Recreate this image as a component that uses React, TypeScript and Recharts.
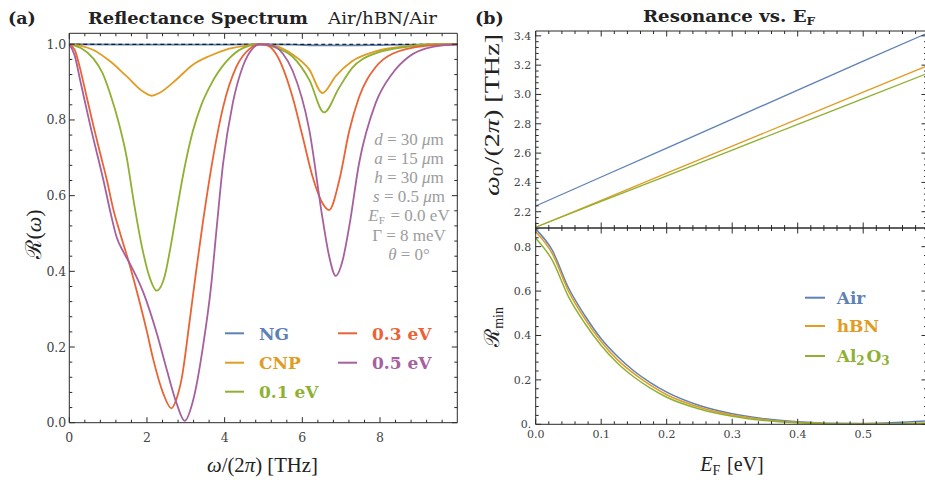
import React from "react";
import { LineChart, Line, XAxis, YAxis, ReferenceLine } from "recharts";

const BLUE = "#5E81B5";
const ORANGE = "#E19C24";
const GREEN = "#8FB032";
const RED = "#EB6235";
const PURPLE = "#A5609D";
const FRAME = "#2a2a2a";
const TICKTEXT = "#444";
const PARAM = "#9c9c9c";

// (a) reflectance spectra, pairs of [ω/2π in THz, R]
const specNG: [number, number][] = [
  [0, 1], [2, 0.999], [4, 0.999], [4.9, 1], [5.8, 0.999], [6.5, 0.997], [7.2, 0.997], [8, 0.998], [9, 0.999], [9.99, 1],
];
const specCNP: [number, number][] = [
  [0, 1], [0.3, 0.996], [0.62, 0.985], [1.05, 0.955], [1.48, 0.915], [1.9, 0.875], [2.12, 0.864], [2.33, 0.872],
  [2.76, 0.907], [3.18, 0.946], [3.61, 0.969], [4.04, 0.986], [4.47, 0.995], [4.9, 1], [5.3, 0.996], [5.75, 0.973],
  [6.18, 0.933], [6.52, 0.871], [6.86, 0.916], [7.28, 0.955], [7.88, 0.981], [8.74, 0.995], [9.5, 1], [9.99, 1],
];
const spec01: [number, number][] = [
  [0, 1], [0.3, 0.99], [0.62, 0.962], [0.85, 0.925], [1.05, 0.87], [1.28, 0.79], [1.48, 0.7], [1.65, 0.59],
  [1.86, 0.47], [2.05, 0.39], [2.25, 0.349], [2.45, 0.385], [2.6, 0.46], [2.75, 0.55], [2.95, 0.665], [3.18, 0.77],
  [3.4, 0.84], [3.61, 0.887], [4.04, 0.954], [4.47, 0.99], [4.9, 1], [5.3, 0.992], [5.75, 0.967], [6.18, 0.906],
  [6.56, 0.82], [6.94, 0.884], [7.28, 0.937], [7.88, 0.976], [8.74, 0.994], [9.5, 1], [9.99, 1],
];
const spec03: [number, number][] = [
  [0, 1], [0.14, 0.985], [0.28, 0.935], [0.45, 0.86], [0.62, 0.785], [0.8, 0.71], [0.97, 0.64], [1.13, 0.565],
  [1.31, 0.5], [1.56, 0.415], [1.82, 0.315], [2.0, 0.24], [2.16, 0.168], [2.42, 0.077], [2.63, 0.038], [2.75, 0.06],
  [2.89, 0.115], [3.1, 0.27], [3.27, 0.404], [3.44, 0.53], [3.7, 0.7], [3.96, 0.834], [4.3, 0.94], [4.64, 0.988],
  [4.9, 1], [5.1, 0.997], [5.32, 0.975], [5.75, 0.86], [6.01, 0.755], [6.27, 0.648], [6.52, 0.58], [6.69, 0.562],
  [6.95, 0.64], [7.21, 0.772], [7.46, 0.86], [7.89, 0.94], [8.32, 0.975], [9.17, 0.996], [9.99, 1],
];
const spec05: [number, number][] = [
  [0, 1], [0.14, 0.97], [0.28, 0.905], [0.54, 0.785], [0.88, 0.64], [1.05, 0.56], [1.22, 0.49], [1.4, 0.45],
  [1.56, 0.42], [1.91, 0.343], [2.25, 0.237], [2.51, 0.14], [2.76, 0.052], [2.97, 0.005], [3.19, 0.06], [3.44, 0.2],
  [3.65, 0.36], [3.79, 0.51], [3.96, 0.685], [4.21, 0.845], [4.47, 0.942], [4.73, 0.99], [4.9, 1], [5.2, 0.997],
  [5.5, 0.975], [5.75, 0.93], [6.18, 0.773], [6.52, 0.54], [6.69, 0.44], [6.86, 0.388], [7.04, 0.43], [7.21, 0.52],
  [7.46, 0.685], [7.89, 0.845], [8.32, 0.923], [8.74, 0.967], [9.35, 0.993], [9.99, 1],
];

// (b) resonance frequency ω0/2π (THz) vs EF (eV)
const eF = [0, 0.1, 0.2, 0.3, 0.4, 0.5, 0.595];
const w0Air = [2.239, 2.437, 2.634, 2.832, 3.029, 3.227, 3.413];
const w0hBN = [2.094, 2.278, 2.463, 2.647, 2.832, 3.016, 3.19];
const w0Al2O3 = [2.094, 2.27, 2.445, 2.621, 2.796, 2.972, 3.138];

// (b) minimum reflectance vs EF
const eFmin = [0, 0.025, 0.05, 0.075, 0.1, 0.125, 0.15, 0.175, 0.2, 0.25, 0.3, 0.35, 0.4, 0.45, 0.5, 0.55, 0.595];
const rminAir = [0.879, 0.785, 0.615, 0.49, 0.385, 0.305, 0.24, 0.188, 0.145, 0.085, 0.048, 0.025, 0.012, 0.005, 0.004, 0.008, 0.015];
const rminhBN = [0.867, 0.77, 0.6, 0.475, 0.372, 0.29, 0.228, 0.176, 0.133, 0.077, 0.042, 0.021, 0.009, 0.003, 0.001, 0.002, 0.006];
const rminAl2O3 = [0.838, 0.74, 0.575, 0.455, 0.355, 0.275, 0.213, 0.163, 0.122, 0.069, 0.036, 0.017, 0.007, 0.002, 0, 0.001, 0.004];

// tick labels
const specXMajor = [0, 2, 4, 6, 8];
const specYMajor = [0, 0.2, 0.4, 0.6, 0.8, 1.0];
const efMajor = [0, 0.1, 0.2, 0.3, 0.4, 0.5];
const w0Major = [2.2, 2.4, 2.6, 2.8, 3.0, 3.2, 3.4];
const rminMajor = [0, 0.2, 0.4, 0.6, 0.8];

const steps = (a: number, b: number, d: number) => {
  const out: number[] = [];
  for (let i = 0; a + i * d <= b + 1e-9; i++) out.push(+(a + i * d).toFixed(4));
  return out;
};
const specXTicks = steps(0, 9.99, 0.4);
const specYTicks = steps(0, 1.02, 0.04);
const efTicks = steps(0, 0.597, 0.02);
const w0Ticks = steps(2.12, 3.43, 0.04);
const rminTicks = steps(0, 0.88, 0.04);

const toPts = (arr: [number, number][]) => arr.map(([w, R]) => ({ w, R }));
const w0Rows = eF.map((e, i) => ({ e, air: w0Air[i], hbn: w0hBN[i], al: w0Al2O3[i] }));
const rminRows = eFmin.map((e, i) => ({ e, air: rminAir[i], hbn: rminhBN[i], al: rminAl2O3[i] }));

// plot boxes in page pixels
const A = { left: 69.3, right: 457.3, top: 33.3, bottom: 422.7 };
const B = { left: 535.7, right: 927, top: 31, mid: 228, bottom: 424.3 };

const isMajor = (v: number, majors: number[]) => majors.some((m) => Math.abs(m - v) < 1e-6);

function tickLabel(side: "bottom" | "left", majors: number[], fmt: (v: number) => string, size: number, gap: number) {
  return (p: any) => {
    const { x, y, payload } = p;
    const v: number = payload.value;
    if (!isMajor(v, majors)) return <g />;
    return side === "bottom" ? (
      <text x={x} y={y + gap} textAnchor="middle" fontSize={size} fill={TICKTEXT} fontFamily="DejaVu Serif">{fmt(v)}</text>
    ) : (
      <text x={x - gap} y={y} dy="0.36em" textAnchor="end" fontSize={size} fill={TICKTEXT} fontFamily="DejaVu Serif">{fmt(v)}</text>
    );
  };
}

// Mathematica-like frame: border plus inward ticks on all four sides
function frame(
  xd: [number, number], yd: [number, number],
  xt: number[], xm: number[], yt: number[], ym: number[],
  wPx: number, hPx: number,
) {
  const ux = (xd[1] - xd[0]) / wPx;
  const uy = (yd[1] - yd[0]) / hPx;
  const out: React.ReactNode[] = [];
  xt.forEach((v) => {
    const L = (isMajor(v, xm) ? 5.5 : 3) * uy;
    out.push(<ReferenceLine key={`xb${v}`} segment={[{ x: v, y: yd[0] }, { x: v, y: yd[0] + L }]} stroke={FRAME} strokeWidth={1} ifOverflow="visible" />);
    out.push(<ReferenceLine key={`xt${v}`} segment={[{ x: v, y: yd[1] }, { x: v, y: yd[1] - L }]} stroke={FRAME} strokeWidth={1} ifOverflow="visible" />);
  });
  yt.forEach((v) => {
    const L = (isMajor(v, ym) ? 5.5 : 3) * ux;
    out.push(<ReferenceLine key={`yl${v}`} segment={[{ x: xd[0], y: v }, { x: xd[0] + L, y: v }]} stroke={FRAME} strokeWidth={1} ifOverflow="visible" />);
    out.push(<ReferenceLine key={`yr${v}`} segment={[{ x: xd[1], y: v }, { x: xd[1] - L, y: v }]} stroke={FRAME} strokeWidth={1} ifOverflow="visible" />);
  });
  out.push(<ReferenceLine key="fl" x={xd[0]} stroke={FRAME} strokeWidth={1} />);
  out.push(<ReferenceLine key="fr" x={xd[1]} stroke={FRAME} strokeWidth={1} />);
  out.push(<ReferenceLine key="fb" y={yd[0]} stroke={FRAME} strokeWidth={1} />);
  out.push(<ReferenceLine key="ft" y={yd[1]} stroke={FRAME} strokeWidth={1} />);
  return out;
}

const axisCommon = { tickLine: false, axisLine: false, tickSize: 0, tickMargin: 0, interval: 0 as const };

function Sub({ children, size = 12, dy = 4 }: { children: React.ReactNode; size?: number; dy?: number }) {
  return (
    <>
      <tspan fontSize={size} dy={dy}>{children}</tspan>
      <tspan dy={-dy}>{"\u200a"}</tspan>
    </>
  );
}

export default function App() {
  const specX: [number, number] = [0, 9.99];
  const specY: [number, number] = [0, 1.029];
  const efX: [number, number] = [0, 0.5974];
  const w0Y: [number, number] = [2.089, 3.433];
  const rminY: [number, number] = [0, 0.884];
  const aW = 470, aH = 483, bX = 470, bW = 460;
  return (
    <div style={{ position: "absolute", left: 0, top: 0, width: 925, height: 483, overflow: "hidden", background: "#fff" }}>
      {/* (a) reflectance spectrum */}
      <div style={{ position: "absolute", left: 0, top: 0 }}>
        <LineChart width={aW} height={aH} margin={{ top: A.top, right: aW - A.right, bottom: aH - A.bottom - 30, left: 0 }}>
          <XAxis dataKey="w" type="number" domain={specX} ticks={specXTicks} height={30} {...axisCommon}
            tick={tickLabel("bottom", specXMajor, (v) => String(v), 12.5, 19)} />
          <YAxis type="number" domain={specY} ticks={specYTicks} width={A.left} {...axisCommon}
            tick={tickLabel("left", specYMajor, (v) => v.toFixed(1), 12.5, 3)} />
          <Line data={toPts(specNG)} dataKey="R" type="monotone" stroke={BLUE} strokeWidth={1.8} dot={false} isAnimationActive={false} />
          <ReferenceLine y={1} stroke="#000" strokeDasharray="4 3" strokeWidth={1} />
          <Line data={toPts(specCNP)} dataKey="R" type="monotone" stroke={ORANGE} strokeWidth={1.8} dot={false} isAnimationActive={false} />
          <Line data={toPts(spec01)} dataKey="R" type="monotone" stroke={GREEN} strokeWidth={1.8} dot={false} isAnimationActive={false} />
          <Line data={toPts(spec03)} dataKey="R" type="monotone" stroke={RED} strokeWidth={1.8} dot={false} isAnimationActive={false} />
          <Line data={toPts(spec05)} dataKey="R" type="monotone" stroke={PURPLE} strokeWidth={1.8} dot={false} isAnimationActive={false} />
          {frame(specX, specY, specXTicks, specXMajor, specYTicks, specYMajor, A.right - A.left, A.bottom - A.top)}
        </LineChart>
      </div>

      {/* (b) bottom: minimum reflectance */}
      <div style={{ position: "absolute", left: bX, top: 0 }}>
        <LineChart width={bW} height={aH} data={rminRows}
          margin={{ top: B.mid, right: bX + bW - B.right, bottom: aH - B.bottom - 30, left: 0 }}>
          <XAxis dataKey="e" type="number" domain={efX} ticks={efTicks} height={30} {...axisCommon}
            tick={tickLabel("bottom", efMajor, (v) => v.toFixed(1), 11, 14)} />
          <YAxis type="number" domain={rminY} ticks={rminTicks} width={B.left - bX} {...axisCommon}
            tick={tickLabel("left", rminMajor, (v) => (v === 0 ? "0." : v.toFixed(1)), 11, 4.5)} />
          <Line dataKey="air" type="monotone" stroke={BLUE} strokeWidth={1.5} dot={false} isAnimationActive={false} />
          <Line dataKey="hbn" type="monotone" stroke={ORANGE} strokeWidth={1.5} dot={false} isAnimationActive={false} />
          <Line dataKey="al" type="monotone" stroke={GREEN} strokeWidth={1.5} dot={false} isAnimationActive={false} />
          {frame(efX, rminY, efTicks, efMajor, rminTicks, rminMajor, B.right - B.left, B.bottom - B.mid)}
        </LineChart>
      </div>

      {/* (b) top: resonance frequency */}
      <div style={{ position: "absolute", left: bX, top: 0 }}>
        <LineChart width={bW} height={240} data={w0Rows}
          margin={{ top: B.top, right: bX + bW - B.right, bottom: 240 - B.mid, left: 0 }}>
          <XAxis dataKey="e" type="number" domain={efX} ticks={efTicks} height={0} {...axisCommon} tick={false} />
          <YAxis type="number" domain={w0Y} ticks={w0Ticks} width={B.left - bX} {...axisCommon}
            tick={tickLabel("left", w0Major, (v) => v.toFixed(1), 11, 4.5)} />
          <Line dataKey="air" type="linear" stroke={BLUE} strokeWidth={1.3} dot={false} isAnimationActive={false} />
          <Line dataKey="hbn" type="linear" stroke={ORANGE} strokeWidth={1.3} dot={false} isAnimationActive={false} />
          <Line dataKey="al" type="linear" stroke={GREEN} strokeWidth={1.3} dot={false} isAnimationActive={false} />
          {frame(efX, w0Y, efTicks, efMajor, w0Ticks, w0Major, B.right - B.left, B.mid - B.top)}
        </LineChart>
      </div>

      {/* titles, labels, legends */}
      <svg width={925} height={483} style={{ position: "absolute", left: 0, top: 0, pointerEvents: "none" }}>
        <g fontFamily="DejaVu Serif" fill="#222">
          <text x={8} y={24} fontSize={17.5} fontWeight="bold">(a)</text>
          <text x={88} y={23.5} fontSize={16.5} fontWeight="bold" textLength={220} lengthAdjust="spacingAndGlyphs">Reflectance Spectrum</text>
          <text x={328} y={23.5} fontSize={16} textLength={109} lengthAdjust="spacingAndGlyphs">Air/hBN/Air</text>
          <text x={475} y={24} fontSize={17.5} fontWeight="bold">(b)</text>
          <text x={643} y={21.7} fontSize={16.5} fontWeight="bold" textLength={174} lengthAdjust="spacingAndGlyphs">
            Resonance vs. E<Sub size={11} dy={3}>F</Sub>
          </text>
        </g>

        <g fontFamily="Liberation Serif" fill="#222">
          <text x={262.5} y={472} fontSize={20} textAnchor="middle" textLength={111} lengthAdjust="spacingAndGlyphs">
            <tspan fontStyle="italic">ω</tspan>/(2<tspan fontStyle="italic">π</tspan>) [THz]
          </text>
          <text transform="translate(41,234) rotate(-90)" fontSize={22} textAnchor="middle">
            ℛ(<tspan fontStyle="italic">ω</tspan>)
          </text>
          <text transform="translate(499,115) rotate(-90)" fontSize={21} textAnchor="middle" textLength={162} lengthAdjust="spacingAndGlyphs">
            <tspan fontStyle="italic">ω</tspan><Sub size={14} dy={4}>0</Sub>/(2<tspan fontStyle="italic">π</tspan>) [THz]
          </text>
          <text transform="translate(499,326) rotate(-90)" fontSize={21} textAnchor="middle">
            ℛ<Sub size={14} dy={4}>min</Sub>
          </text>
          <text x={732} y={471} fontSize={20} textAnchor="middle">
            <tspan fontStyle="italic">E</tspan><Sub size={14} dy={4}>F</Sub> [eV]
          </text>
        </g>

        <g fontFamily="Liberation Serif" fill={PARAM} fontSize={17} textAnchor="middle">
          <text x={409} y={145}><tspan fontStyle="italic">d</tspan> = 30 <tspan fontStyle="italic">μ</tspan>m</text>
          <text x={409} y={164}><tspan fontStyle="italic">a</tspan> = 15 <tspan fontStyle="italic">μ</tspan>m</text>
          <text x={409} y={183}><tspan fontStyle="italic">h</tspan> = 30 <tspan fontStyle="italic">μ</tspan>m</text>
          <text x={409} y={202}><tspan fontStyle="italic">s</tspan> = 0.5 <tspan fontStyle="italic">μ</tspan>m</text>
          <text x={409} y={220.5}><tspan fontStyle="italic">E</tspan><Sub size={11} dy={3}>F</Sub> = 0.0 eV</text>
          <text x={409} y={240.5}>Γ = 8 meV</text>
          <text x={409} y={259.5}><tspan fontStyle="italic">θ</tspan> = 0°</text>
        </g>

        <g fontFamily="DejaVu Serif" fontWeight="bold" fontSize={17}>
          {[
            { label: "NG", color: BLUE, x: 225, y: 333.3 },
            { label: "CNP", color: ORANGE, x: 225, y: 362.7 },
            { label: "0.1 eV", color: GREEN, x: 225, y: 391.7 },
            { label: "0.3 eV", color: RED, x: 338, y: 333.3 },
            { label: "0.5 eV", color: PURPLE, x: 338, y: 362.7 },
          ].map((it) => (
            <g key={it.label}>
              <line x1={it.x} x2={it.x + 19} y1={it.y} y2={it.y} stroke={it.color} strokeWidth={2} />
              <text x={it.x + 34} y={it.y + 6.3} fill={it.color}>{it.label}</text>
            </g>
          ))}
          {[
            { label: "Air", color: BLUE, y: 297.7 },
            { label: "hBN", color: ORANGE, y: 326 },
          ].map((it) => (
            <g key={it.label}>
              <line x1={805} x2={825} y1={it.y} y2={it.y} stroke={it.color} strokeWidth={2} />
              <text x={836.7} y={it.y + 6.3} fill={it.color}>{it.label}</text>
            </g>
          ))}
          <line x1={805} x2={825} y1={356} y2={356} stroke={GREEN} strokeWidth={2} />
          <text x={836.7} y={362.3} fill={GREEN}>
            Al<Sub size={12} dy={3}>2</Sub>O<Sub size={12} dy={3}>3</Sub>
          </text>
        </g>
      </svg>
    </div>
  );
}
